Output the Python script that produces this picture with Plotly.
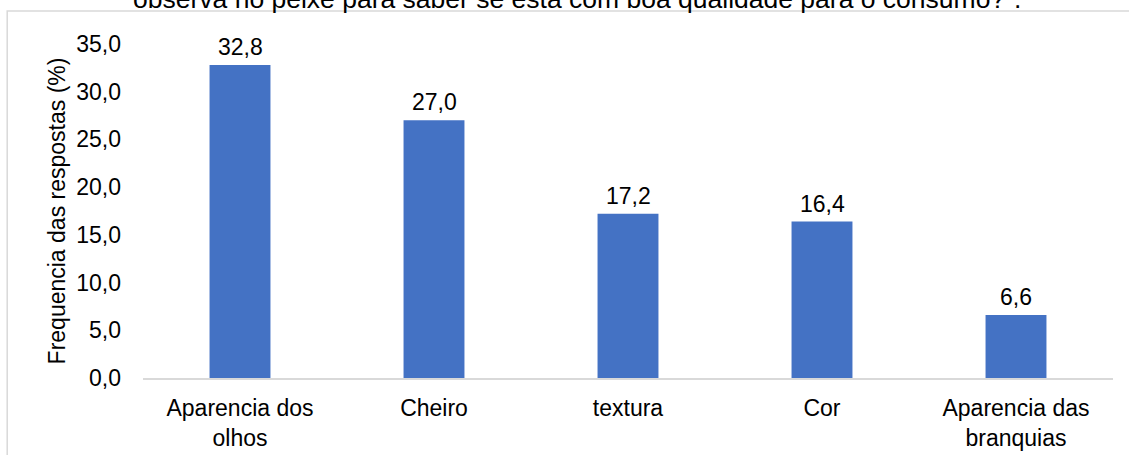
import plotly.graph_objects as go

# dados
categorias = ["Aparencia dos<br>olhos", "Cheiro", "textura", "Cor", "Aparencia das<br>branquias"]
frequencias = [32.8, 27.0, 17.2, 16.4, 6.6]
rotulos = ["32,8", "27,0", "17,2", "16,4", "6,6"]
titulo = "observa no peixe para saber se está com boa qualidade para o consumo?”."

fonte = dict(family="Liberation Sans, Arial, sans-serif", size=23, color="#000000")

fig = go.Figure()
fig.add_trace(go.Bar(x=categorias, y=frequencias, marker_color="#4472C4",
                     marker_line_width=0, width=0.314))

# rótulos de dados acima das barras
for cat, val, txt in zip(categorias, frequencias, rotulos):
    fig.add_annotation(x=cat, y=val, text=txt, showarrow=False, yanchor="bottom",
                       yshift=3, font=fonte)

# título cortado no topo
fig.add_annotation(x=0.447, xref="paper", y=1.085, yref="paper", text=titulo,
                   showarrow=False, yanchor="bottom", font=dict(fonte, size=26.5))

# borda da área do gráfico
fig.add_shape(type="rect", xref="paper", yref="paper", x0=-0.140, x1=1.05, y0=-0.3, y1=1.0988,
              line=dict(color="#d9d9d9", width=1.5), layer="below")

fig.update_layout(
    width=1129, height=455,
    margin=dict(l=143, r=16, t=44, b=77),
    paper_bgcolor="white", plot_bgcolor="white",
    separators=",.",
    font=fonte,
    showlegend=False,
    xaxis=dict(showgrid=False, showline=True, linecolor="#d9d9d9", linewidth=1.5,
               ticks="", ticklabelstandoff=9, tickfont=fonte, automargin=False),
    yaxis=dict(range=[0, 35], dtick=5, tickformat=".1f", showgrid=False, zeroline=False,
               showline=False, ticks="", ticklabelstandoff=21, tickfont=fonte, automargin=False,
               title=dict(text="Frequencia das respostas (%)", font=fonte, standoff=4)),
)

# sem a margem padrão do body, para o gráfico ocupar a janela toda
fig.write_html("out.html", config={"displayModeBar": False},
               post_script="document.body.style.margin='0';")
